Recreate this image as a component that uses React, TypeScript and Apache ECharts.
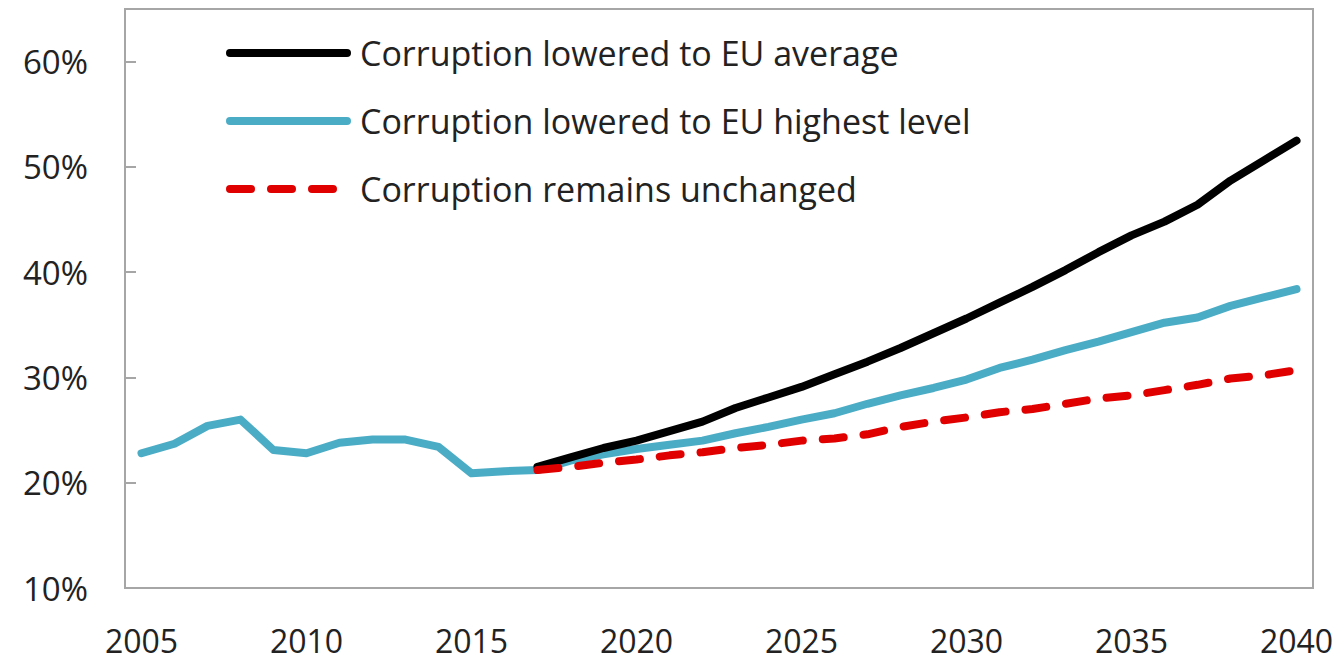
import React, { useEffect, useRef } from "react";
import * as echarts from "echarts";

const years: string[] = [];
for (let y = 2005; y <= 2040; y++) years.push(String(y));

// Historical 2005-2016 followed by the "EU highest level" projection 2017-2040
const historical = [22.8, 23.7, 25.4, 26.0, 23.1, 22.8, 23.8, 24.1, 24.1, 23.4, 20.9, 21.1];
const highestLevel = [21.2, 22.1, 22.7, 23.2, 23.6, 24.0, 24.7, 25.3, 26.0, 26.6, 27.5, 28.3, 29.0, 29.8, 30.9, 31.7, 32.6, 33.4, 34.3, 35.2, 35.7, 36.8, 37.6, 38.4];
const euAverage = [21.5, 22.4, 23.3, 24.0, 24.9, 25.8, 27.1, 28.1, 29.1, 30.3, 31.5, 32.8, 34.2, 35.6, 37.1, 38.6, 40.2, 41.9, 43.5, 44.8, 46.4, 48.7, 50.6, 52.5];
const unchanged = [21.2, 21.5, 21.9, 22.2, 22.6, 22.9, 23.3, 23.6, 24.0, 24.2, 24.6, 25.3, 25.8, 26.2, 26.7, 27.0, 27.5, 28.0, 28.3, 28.8, 29.3, 29.9, 30.2, 30.7];

const names = [
  "Corruption lowered to EU average",
  "Corruption lowered to EU highest level",
  "Corruption remains unchanged",
];

const pad = (arr: number[]) => [...historical.map(() => null), ...arr];

export default function App() {
  const ref = useRef<HTMLDivElement>(null);
  useEffect(() => {
    if (!ref.current) return;
    const chart = echarts.init(ref.current, null, { renderer: "svg" });
    const font = "'Open Sans', 'Noto Sans', sans-serif";
    chart.setOption({
      animation: false,
      backgroundColor: "#ffffff",
      grid: {
        left: 125,
        right: 29,
        top: 9,
        bottom: 73,
        show: true,
        borderColor: "#a6a6a6",
        borderWidth: 2,
        containLabel: false,
      },
      legend: {
        data: names,
        orient: "vertical",
        left: 221,
        top: 28,
        itemWidth: 117,
        itemHeight: 20,
        itemGap: 28,
        selectedMode: false,
        itemStyle: { opacity: 0 },
        lineStyle: { width: 8, cap: "round" },
        textStyle: {
          fontFamily: font,
          fontSize: 34,
          color: "#222222",
          lineHeight: 40,
          padding: [0, 0, 0, 8],
        },
      },
      xAxis: {
        type: "category",
        data: years,
        boundaryGap: true,
        axisLine: { show: true, lineStyle: { color: "#a6a6a6", width: 2 } },
        axisTick: { show: false },
        axisLabel: {
          interval: 4,
          fontFamily: font,
          fontSize: 32,
          color: "#222222",
          margin: 36,
        },
        splitLine: { show: false },
      },
      yAxis: {
        type: "value",
        min: 10,
        max: 65,
        interval: 10,
        axisLine: { show: true, lineStyle: { color: "#a6a6a6", width: 2 } },
        axisTick: { show: true, inside: true, length: 11, lineStyle: { color: "#a6a6a6", width: 2 } },
        axisLabel: {
          fontFamily: font,
          fontSize: 33,
          color: "#222222",
          margin: 37,
          padding: [6, 0, 0, 0],
          showMaxLabel: false,
          formatter: (v: number) => (v > 60 ? "" : v + "%"),
        },
        splitLine: { show: false },
      },
      series: [
        {
          name: names[1],
          type: "line",
          data: [...historical, ...highestLevel],
          showSymbol: false,
          symbol: "none",
          lineStyle: { color: "#4bacc6", width: 8, cap: "round", join: "round" },
          itemStyle: { color: "#4bacc6" },
          z: 2,
        },
        {
          name: names[0],
          type: "line",
          data: pad(euAverage),
          showSymbol: false,
          symbol: "none",
          lineStyle: { color: "#000000", width: 8, cap: "round", join: "round" },
          itemStyle: { color: "#000000" },
          z: 3,
        },
        {
          name: names[2],
          type: "line",
          data: pad(unchanged),
          showSymbol: false,
          symbol: "none",
          lineStyle: { color: "#e00000", width: 8, type: [21, 20], cap: "round", join: "round" },
          itemStyle: { color: "#e00000" },
          z: 4,
        },
      ],
    });
    return () => chart.dispose();
  }, []);
  return (
    <div
      ref={ref}
      style={{ position: "absolute", left: 0, top: 0, width: 1342, height: 661 }}
    />
  );
}
